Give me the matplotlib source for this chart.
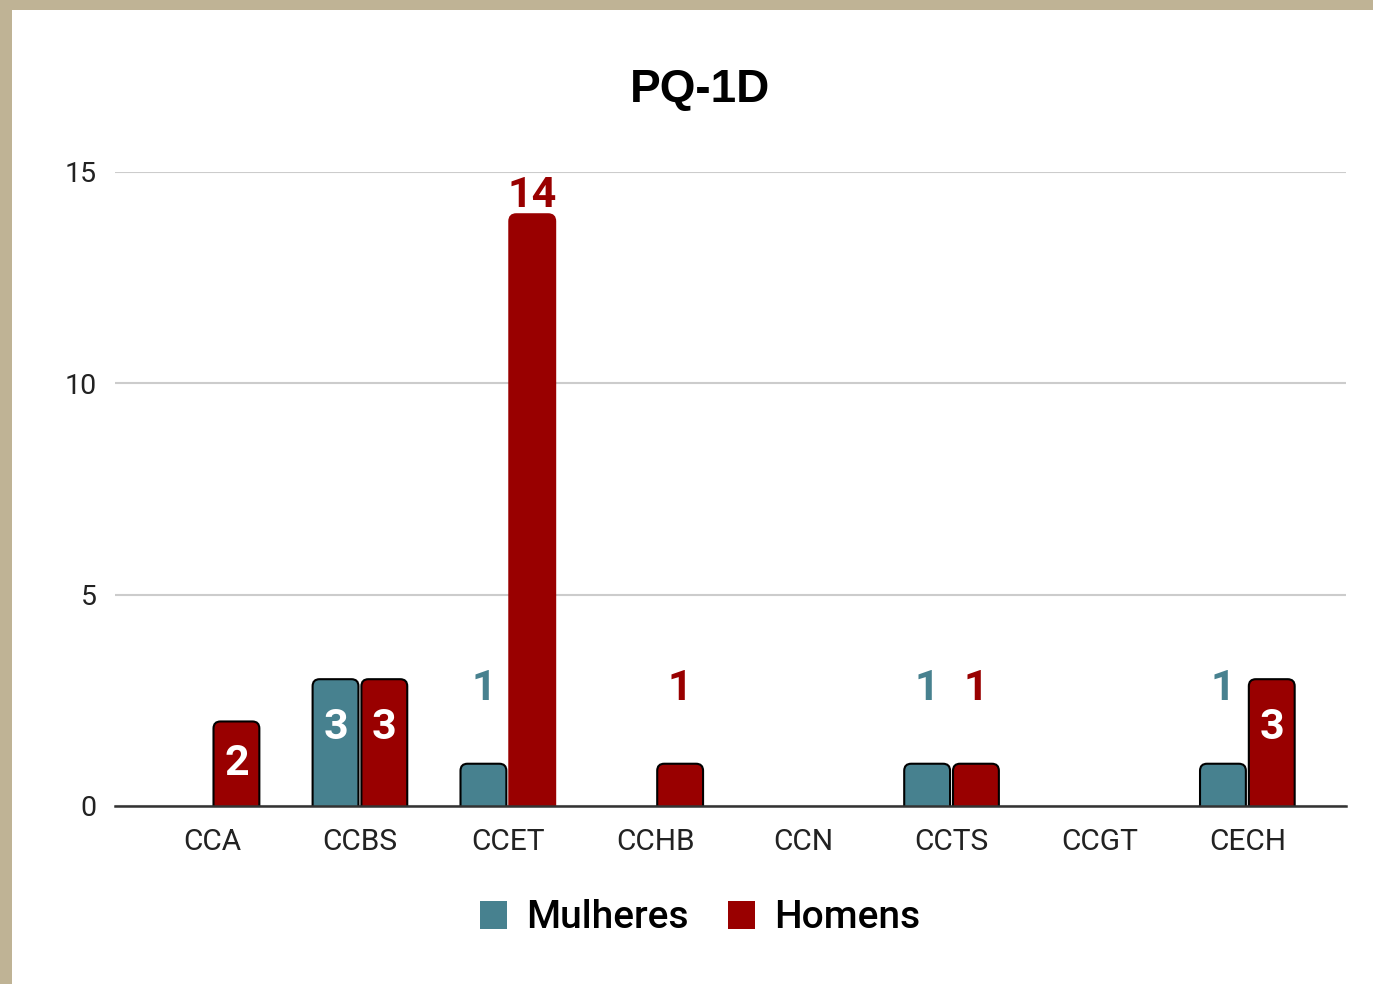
import matplotlib
matplotlib.use("Agg")
import matplotlib.pyplot as plt
from matplotlib.patches import FancyBboxPatch, Rectangle, Patch

# dados
categorias = ["CCA", "CCBS", "CCET", "CCHB", "CCN", "CCTS", "CCGT", "CECH"]
mulheres = [0, 3, 1, 0, 0, 1, 0, 1]
homens = [2, 3, 14, 1, 0, 1, 0, 3]

cor_mulheres = "#47818f"
cor_homens = "#990000"

plt.rcParams["font.family"] = ["Roboto", "DejaVu Sans"]

fig = plt.figure(figsize=(13.73, 9.84), dpi=100)
fig.patch.set_facecolor("white")
# moldura bege
fig.patches.append(Rectangle((0, 1 - 10 / 984), 1, 10 / 984, transform=fig.transFigure,
                             facecolor="#bfb395", edgecolor="none"))
fig.patches.append(Rectangle((0, 0), 12 / 1373, 1, transform=fig.transFigure,
                             facecolor="#bfb395", edgecolor="none"))

ax = fig.add_axes([115 / 1373, 1 - 806 / 984, (1346 - 115) / 1373, (806 - 172) / 984])
ax.set_xlim(-0.656, 7.667)
ax.set_ylim(0, 15)

x = list(range(len(categorias)))
w = 0.31
off = 0.165
b1 = ax.bar([i - off for i in x], mulheres, w, color=cor_mulheres)
b2 = ax.bar([i + off for i in x], homens, w, color=cor_homens)

# aspecto para cantos arredondados
bb = ax.get_window_extent()
asp = (15 / bb.height) / (8.323 / bb.width)
r = 7 * 8.323 / bb.width

for bars, vals, cor in [(b1, mulheres, cor_mulheres), (b2, homens, cor_homens)]:
    for rect, v in zip(bars, vals):
        rect.remove()
        if v == 0:
            continue
        ec = "black" if v < 10 else cor
        p = FancyBboxPatch((rect.get_x(), -0.5), rect.get_width(), v + 0.5,
                           boxstyle=f"round,pad=0,rounding_size={r}",
                           mutation_aspect=asp, facecolor=cor, edgecolor=ec,
                           linewidth=1.5, zorder=3)
        ax.add_patch(p)
        cx = rect.get_x() + rect.get_width() / 2
        if v < 2:
            ax.text(cx, 2.78, str(v), ha="center", va="center", fontsize=31,
                    fontweight="bold", color=cor, zorder=4)
        elif v > 10:
            ax.text(cx, v + 0.44, str(v), ha="center", va="center", fontsize=31,
                    fontweight="bold", color=cor, zorder=4)
        else:
            ax.text(cx, v * 0.85 - 0.7, str(v), ha="center", va="center", fontsize=31,
                    fontweight="bold", color="white", zorder=4)

ax.set_yticks([0, 5, 10, 15])
ax.set_xticks(x)
ax.set_xticklabels(categorias)
ax.tick_params(axis="both", length=0, colors="#222222")
ax.tick_params(axis="x", pad=16, labelsize=21.5)
ax.tick_params(axis="y", pad=13, labelsize=20.5)
ax.grid(axis="y", color="#cccccc", linewidth=1.5)
ax.set_axisbelow(True)
for s in ["top", "right", "left"]:
    ax.spines[s].set_visible(False)
ax.spines["bottom"].set_color("#333333")
ax.spines["bottom"].set_linewidth(1.8)
ax.spines["bottom"].set_zorder(5)

fig.text(700 / 1373, 1 - 90 / 984, "PQ-1D", ha="center", va="center", fontsize=33,
         fontweight="bold", family=["Liberation Sans", "DejaVu Sans"])

handles = [Patch(facecolor=cor_mulheres, label="Mulheres"),
           Patch(facecolor=cor_homens, label="Homens")]
leg = fig.legend(handles=handles, loc="center", bbox_to_anchor=(700 / 1373, 1 - 918 / 984),
                 ncol=2, frameon=False, fontsize=28, handlelength=0.7, handleheight=0.7,
                 handletextpad=0.5, columnspacing=1.0)
for t in leg.get_texts():
    t.set_fontweight("medium")

fig.savefig("out.png", dpi=100)
